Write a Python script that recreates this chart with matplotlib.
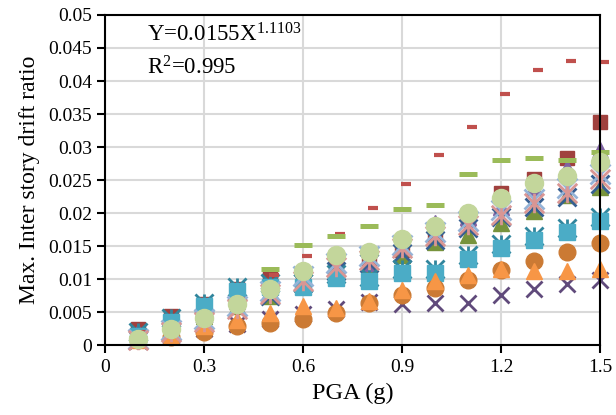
import matplotlib
matplotlib.use("Agg")
import matplotlib.pyplot as plt
from matplotlib.path import Path

plt.rcParams["font.family"] = "Liberation Serif"
plt.rcParams["mathtext.fontset"] = "custom"
plt.rcParams["mathtext.rm"] = "Liberation Serif"
plt.rcParams["mathtext.it"] = "Liberation Serif"

pga = [0.1, 0.2, 0.3, 0.4, 0.5, 0.6, 0.7, 0.8, 0.9, 1.0, 1.1, 1.2, 1.3, 1.4, 1.5]
pga_red_dash = [0.11, 0.21, 0.31, 0.41, 0.51, 0.61, 0.71, 0.81, 0.91, 1.01, 1.11, 1.21, 1.31, 1.41, 1.51]

sq_red = [0.0025, 0.0045, 0.0063, 0.0085, 0.0103, 0.011, 0.012, 0.013, 0.0145, 0.016, 0.019, 0.023, 0.0252, 0.0284, 0.0338]
tri_olive = [0.0015, 0.003, 0.0045, 0.006, 0.0075, 0.009, 0.0105, 0.012, 0.0137, 0.0157, 0.0167, 0.0186, 0.0203, 0.0227, 0.0239]
tri_purple = [0.002, 0.0035, 0.005, 0.0068, 0.0083, 0.0098, 0.0112, 0.0125, 0.015, 0.0185, 0.0195, 0.021, 0.024, 0.0268, 0.0295]
x_darkpurple = [0.0008, 0.0015, 0.0025, 0.0032, 0.004, 0.0047, 0.0055, 0.0066, 0.0063, 0.0064, 0.0064, 0.0077, 0.0086, 0.0093, 0.0099]
x_darkblue = [0.0009, 0.0021, 0.0038, 0.0058, 0.0075, 0.0095, 0.0112, 0.0125, 0.014, 0.016, 0.0178, 0.0195, 0.021, 0.0225, 0.0245]
star_teal = [0.0021, 0.0041, 0.0065, 0.0088, 0.0094, 0.0095, 0.0108, 0.0103, 0.0115, 0.0115, 0.0137, 0.0153, 0.0166, 0.0178, 0.0194]
sq_teal = [0.0015, 0.0035, 0.0059, 0.0082, 0.0088, 0.0089, 0.0102, 0.0097, 0.0109, 0.0109, 0.0131, 0.0147, 0.016, 0.0172, 0.0188]
circ_orange = [0.0008, 0.0013, 0.0021, 0.0029, 0.0034, 0.004, 0.0049, 0.0064, 0.0076, 0.0087, 0.0099, 0.0114, 0.0128, 0.0142, 0.0155]
tri_orange = [0.0008, 0.0015, 0.0029, 0.0039, 0.0049, 0.0059, 0.0056, 0.0068, 0.0084, 0.0097, 0.0107, 0.0115, 0.0112, 0.0112, 0.0115]
dash_red = [0.002, 0.003, 0.0045, 0.007, 0.0106, 0.0135, 0.0168, 0.0208, 0.0245, 0.0288, 0.033, 0.038, 0.0416, 0.0431, 0.0429]
dash_green = [0.0012, 0.0025, 0.0042, 0.0064, 0.0116, 0.0152, 0.0165, 0.018, 0.0206, 0.0212, 0.026, 0.028, 0.0284, 0.0281, 0.0292]
x_lightblue = [0.001, 0.0023, 0.004, 0.006, 0.0082, 0.0105, 0.0125, 0.0135, 0.0152, 0.0172, 0.0188, 0.0205, 0.0222, 0.0238, 0.026]
star_pink = [0.0008, 0.002, 0.0035, 0.0055, 0.0078, 0.0098, 0.0118, 0.013, 0.0147, 0.0165, 0.0182, 0.0198, 0.0215, 0.023, 0.0252]
circ_green = [0.001, 0.0025, 0.0041, 0.0063, 0.0085, 0.0113, 0.0137, 0.0141, 0.0161, 0.018, 0.02, 0.0223, 0.0246, 0.0256, 0.0278]

# asterisk-like marker (x with a vertical bar), as in Excel's "star"
star = Path([(-1, -1), (1, 1), (-1, 1), (1, -1), (0, -1), (0, 1)],
            [Path.MOVETO, Path.LINETO, Path.MOVETO, Path.LINETO, Path.MOVETO, Path.LINETO])

fig = plt.figure(figsize=(6.16, 4.15), dpi=100)
ax = fig.add_axes([0.171, 0.1675, 0.8035, 0.7965])

kw = dict(linestyle="none", clip_on=False)
ax.plot(pga, sq_red, marker="s", ms=10.5, color="#A0413E", **kw)
ax.plot(pga, tri_olive, marker="^", ms=12, color="#77933C", **kw)
ax.plot(pga, tri_purple, marker="^", ms=12, color="#8064A2", **kw)
ax.plot(pga, x_darkpurple, marker="x", ms=11, mew=2, color="#604A7B", **kw)
ax.plot(pga, x_darkblue, marker="x", ms=13, mew=2, color="#376092", **kw)
ax.plot(pga, star_teal, marker=star, ms=13, mew=2, color="#31859C", fillstyle="none", **kw)
ax.plot(pga, sq_teal, marker="s", ms=11, color="#4BACC6", **kw)
ax.plot(pga, circ_orange, marker="o", ms=12, color="#CB7A34", **kw)
ax.plot(pga, tri_orange, marker="^", ms=12, color="#F79646", **kw)
ax.plot(pga_red_dash, dash_red, marker="_", ms=7.2, mew=3, color="#C0504D", **kw)
ax.plot(pga, dash_green, marker="_", ms=13, mew=3.6, color="#9BBB59", **kw)
ax.plot(pga, x_lightblue, marker="x", ms=14, mew=2, color="#95B3D7", **kw)
ax.plot(pga, star_pink, marker=star, ms=14, mew=2, color="#D99694", fillstyle="none", **kw)
ax.plot(pga, circ_green, marker="o", ms=13, color="#C3D69B", **kw)

ax.set_xlim(0, 1.5)
ax.set_ylim(0, 0.05)
ax.set_xticks([0, 0.3, 0.6, 0.9, 1.2, 1.5])
ax.set_xticklabels(["0", "0.3", "0.6", "0.9", "1.2", "1.5"])
yt = [0, 0.005, 0.01, 0.015, 0.02, 0.025, 0.03, 0.035, 0.04, 0.045, 0.05]
ax.set_yticks(yt)
ax.set_yticklabels(["0", "0.005", "0.01", "0.015", "0.02", "0.025", "0.03", "0.035", "0.04", "0.045", "0.05"])
ax.tick_params(axis="both", direction="out", length=6, width=1.5, labelsize=14, colors="black")
ax.grid(True, color="#D9D9D9", linewidth=1.5)
ax.set_axisbelow(True)
for s in ax.spines.values():
    s.set_linewidth(1.5)
    s.set_color("black")

ax.set_xlabel("PGA (g)", fontsize=17.5, labelpad=5)
ax.set_ylabel("Max. Inter story drift ratio", fontsize=17, labelpad=6)

ax.text(0.085, 0.975, r"Y=0.0155X$^{\mathrm{1.1103}}$", transform=ax.transAxes, fontsize=16.5, va="top")
ax.text(0.085, 0.875, r"R$^{\mathrm{2}}$=0.995", transform=ax.transAxes, fontsize=16.5, va="top")

fig.savefig("out.png", dpi=100)
